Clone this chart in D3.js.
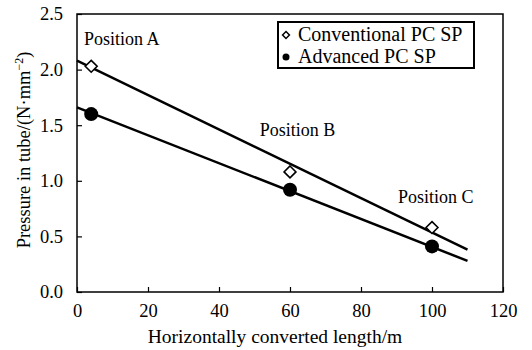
<!DOCTYPE html>
<html>
<head>
<meta charset="utf-8">
<script src="https://cdn.jsdelivr.net/npm/d3@7"></script>
<style>
  body { margin: 0; background: #fff; }
  svg text { font-family: "Liberation Serif", "Times New Roman", Times, serif !important; fill: #000; }
</style>
</head>
<body>
<div id="chart"></div>
<script>
// data
const lengths = [4, 60, 100];
const conventional = [2.03, 1.08, 0.58];
const advanced = [1.60, 0.92, 0.41];
const convFit = [[0, 2.08], [110, 0.38]];
const advFit = [[0, 1.66], [110, 0.28]];
const positions = ["Position A", "Position B", "Position C"];
const posAnchor = [[2, 2.22], [51.5, 1.40], [90.4, 0.80]];
const xTicks = [0, 20, 40, 60, 80, 100, 120];
const yTicks = [0, 0.5, 1.0, 1.5, 2.0, 2.5];

const W = 532, H = 350;
const margin = { top: 14, right: 29, bottom: 58, left: 77 },
  width = W - margin.left - margin.right,
  height = H - margin.top - margin.bottom;

const svg = d3.select("#chart").append("svg")
  .attr("width", W).attr("height", H);
const g = svg.append("g")
  .attr("transform", "translate(" + margin.left + "," + margin.top + ")");

const x = d3.scaleLinear().domain([0, 120]).range([0, width]);
const y = d3.scaleLinear().domain([0, 2.5]).range([height, 0]);

// axes with inward ticks
const xAxis = g.append("g")
  .attr("transform", "translate(0," + height + ")")
  .call(d3.axisBottom(x).tickValues(xTicks).tickSize(-5).tickPadding(12).tickFormat(d3.format("d")));
const yAxis = g.append("g")
  .call(d3.axisLeft(y).tickValues(yTicks).tickSize(-5).tickPadding(14).tickFormat(d3.format(".1f")));
[xAxis, yAxis].forEach(a => {
  a.attr("font-family", null).attr("font-size", null);
  a.select(".domain").remove();
  a.selectAll("line").attr("stroke", "#000").attr("stroke-width", 1.2);
  a.selectAll("text").style("font-size", "18.5px").attr("fill", "#000");
});

// frame
g.append("rect")
  .attr("width", width).attr("height", height)
  .attr("fill", "none").attr("stroke", "#000").attr("stroke-width", 1.5);

// fit lines
const line = d3.line().x(d => x(d[0])).y(d => y(d[1]));
[convFit, advFit].forEach(f => {
  g.append("path").datum(f).attr("d", line)
    .attr("fill", "none").attr("stroke", "#000").attr("stroke-width", 2.5);
});

// markers
const diamond = d3.symbol().type(d3.symbolDiamond2).size(90);
g.selectAll(".conv").data(lengths).enter().append("path")
  .attr("class", "conv")
  .attr("transform", (d, i) => "translate(" + x(d) + "," + y(conventional[i]) + ")")
  .attr("d", diamond)
  .attr("fill", "#fff").attr("stroke", "#000").attr("stroke-width", 1.6);
g.selectAll(".adv").data(lengths).enter().append("circle")
  .attr("class", "adv")
  .attr("cx", d => x(d)).attr("cy", (d, i) => y(advanced[i]))
  .attr("r", 7).attr("fill", "#000");

// position labels
g.selectAll(".pos").data(positions).enter().append("text")
  .attr("x", (d, i) => x(posAnchor[i][0]))
  .attr("y", (d, i) => y(posAnchor[i][1]))
  .style("font-size", "18px")
  .text(d => d);

// legend
const leg = svg.append("g").attr("transform", "translate(278,22)");
leg.append("rect").attr("width", 196).attr("height", 46)
  .attr("fill", "#fff").attr("stroke", "#000").attr("stroke-width", 2);
leg.append("path").attr("transform", "translate(8,13)")
  .attr("d", d3.symbol().type(d3.symbolDiamond2).size(30))
  .attr("fill", "none").attr("stroke", "#000").attr("stroke-width", 1.5);
leg.append("circle").attr("cx", 8).attr("cy", 35).attr("r", 3.5).attr("fill", "#000");
leg.append("text").attr("x", 20).attr("y", 19).style("font-size", "20px").text("Conventional PC SP");
leg.append("text").attr("x", 20).attr("y", 41).style("font-size", "20px").text("Advanced PC SP");

// axis titles
svg.append("text")
  .attr("x", 275).attr("y", 343)
  .attr("text-anchor", "middle").style("font-size", "19.5px")
  .text("Horizontally converted length/m");
const yl = svg.append("text")
  .attr("transform", "translate(30," + 150 + ") rotate(-90)")
  .attr("text-anchor", "middle").style("font-size", "18.5px");
yl.append("tspan").text("Pressure in tube/(N\u00b7mm");
yl.append("tspan").attr("dy", -7).style("font-size", "12px").text("\u22122");
yl.append("tspan").attr("dy", 7).text(")");
</script>
</body>
</html>
